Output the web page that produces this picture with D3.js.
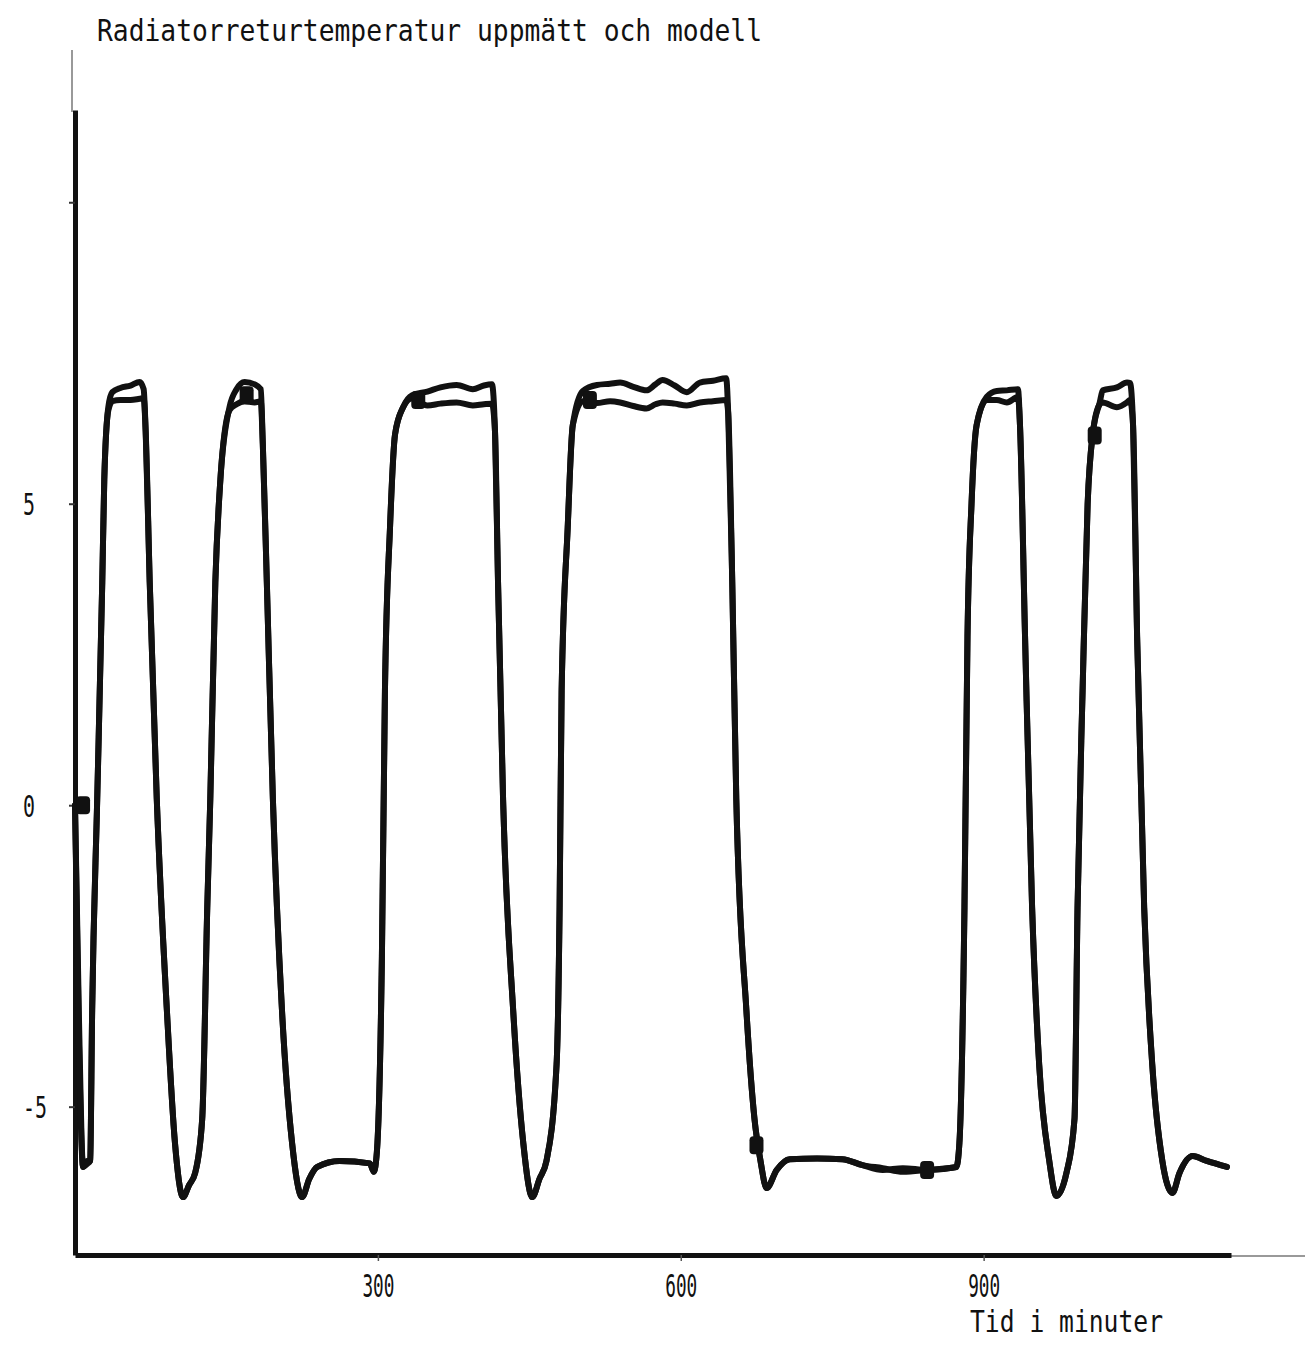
<!DOCTYPE html>
<meta charset="utf-8">
<script src="https://cdn.jsdelivr.net/npm/d3@7"></script>
<style>
    body { margin: 0; background: #fff; }
    text { font-family: "DejaVu Sans Mono", "Liberation Mono", monospace; fill: #111; }
    .line { fill: none; stroke: #111; stroke-width: 6; stroke-linejoin: round; stroke-linecap: round; }
</style>
<body>
<div id="chart"></div>
<script>

    // tid i minuter, gemensam för båda kurvorna
    var tid = [0, 4, 8, 12, 15, 17, 22, 27, 29, 33, 37, 45, 55, 64, 68, 70, 74, 81, 91, 99, 107, 113, 119,
        126, 131, 134, 139, 144, 153, 160, 168, 178, 184, 186, 190, 196, 205, 215, 225, 232, 240, 262, 292, 296,
        299, 304, 307, 312, 317, 325, 334, 349, 362, 378, 394, 405, 413, 416, 419, 424, 434, 444, 453, 460,
        467, 477, 480, 482, 488, 493, 503, 517, 530, 540, 553, 566, 575, 582, 594, 606, 619, 632, 645, 647,
        651, 655, 665, 673, 679, 685, 695, 708, 735, 760, 780, 800, 820, 844, 873,
        876, 881, 884, 888, 893, 903, 913, 923, 934, 936, 941, 948, 955, 965, 972, 982,
        990, 993, 998, 1003, 1008, 1015, 1018, 1032, 1042, 1045, 1048, 1052, 1059, 1067, 1077, 1087, 1094,
        1107, 1121, 1141]

    var uppmatt = [0, -4.0, -6.0, -5.9, -5.9, -3.4, 0.1, 3.7, 5.4, 6.6, 6.85, 6.92, 6.96, 7.02, 6.9, 6.2, 3.7, 0.1, -3.4, -5.6, -6.5, -6.3, -6.1,
        -5.2, -1.7, 0.1, 3.7, 5.4, 6.6, 6.9, 7.02, 6.98, 6.9, 6.0, 3.7, 0.1, -3.4, -5.6, -6.5, -6.2, -6.0, -5.9, -5.94, -6.08,
        -5.75, -2.5, 1.9, 4.6, 6.15, 6.6, 6.8, 6.86, 6.93, 6.97, 6.9, 6.96, 6.98, 6.2, 3.7, 0.1, -3.4, -5.6, -6.5, -6.2,
        -5.9, -4.3, -1.7, 1.9, 4.6, 6.3, 6.87, 6.97, 6.99, 7.01, 6.94, 6.88, 6.98, 7.05, 6.96, 6.85, 7.01, 7.04, 7.08, 6.5,
        3.7, 0.1, -3.4, -5.2, -5.9, -6.35, -6.05, -5.87, -5.86, -5.87, -5.97, -6.05, -6.02, -6.05, -6.0,
        -5.6, -1.7, 2.8, 5.0, 6.3, 6.77, 6.87, 6.88, 6.9, 6.3, 2.8, -1.7, -4.3, -5.9, -6.48, -6.1,
        -5.2, -1.7, 1.9, 5.0, 6.15, 6.68, 6.88, 6.93, 7.01, 7.0, 6.3, 2.8, -1.7, -4.3, -5.9, -6.43, -6.1,
        -5.82, -5.9, -6.0]

    var modell = [0, -3.6, -6.0, -5.95, -5.9, -3.4, 0.1, 3.7, 5.4, 6.55, 6.7, 6.72, 6.72, 6.74, 6.75, 6.2, 3.7, 0.1, -3.4, -5.6, -6.5, -6.3, -6.1,
        -5.2, -1.7, 0.1, 3.7, 5.4, 6.55, 6.65, 6.7, 6.68, 6.7, 6.0, 3.7, 0.1, -3.4, -5.6, -6.5, -6.2, -6.0, -5.9, -5.94, -6.08,
        -5.75, -2.5, 1.9, 4.6, 6.15, 6.6, 6.75, 6.63, 6.66, 6.68, 6.63, 6.65, 6.66, 6.2, 3.7, 0.1, -3.4, -5.6, -6.5, -6.2,
        -5.9, -4.3, -1.7, 1.9, 4.6, 6.3, 6.7, 6.67, 6.7, 6.68, 6.62, 6.58, 6.65, 6.68, 6.66, 6.63, 6.68, 6.7, 6.72, 6.5,
        3.7, 0.1, -3.4, -5.2, -5.9, -6.35, -6.05, -5.87, -5.86, -5.87, -5.97, -6.02, -6.08, -6.05, -6.0,
        -5.6, -1.7, 2.8, 5.0, 6.3, 6.72, 6.72, 6.68, 6.77, 6.3, 2.8, -1.7, -4.3, -5.9, -6.48, -6.1,
        -5.2, -1.7, 1.9, 5.0, 6.15, 6.65, 6.68, 6.6, 6.68, 6.72, 6.3, 2.8, -1.7, -4.3, -5.9, -6.43, -6.1,
        -5.82, -5.9, -6.0]

    // pennans fläckar på kurvan (tid, värde)
    var flackTid = [8, 170, 340, 510, 675, 844, 1010]
    var flackVarde = [0, 6.8, 6.72, 6.72, -5.64, -6.05, 6.13]

    var yTicks = [-5, 0, 5, 10]
    var xTicks = [300, 600, 900]

    var w = 1305
    var h = 1347

    var svg = d3.select("#chart").append("svg").attr("width", w).attr("height", h)

    var x_scale = d3.scaleLinear().domain([0, 1145]).range([75, 1231])
    var y_scale = d3.scaleLinear().domain([-7.46, 11.53]).range([1255, 110])

    // tunna förlängningar av axlarna (skannat papper)
    svg.append("line").attr("x1", 72).attr("x2", 72).attr("y1", 50).attr("y2", 112).style("stroke", "#999").style("stroke-width", 2)
    svg.append("line").attr("x1", 1231).attr("x2", 1305).attr("y1", 1256).attr("y2", 1256).style("stroke", "#777").style("stroke-width", 1.5)

    var y_axis = d3.axisLeft(y_scale).tickValues(yTicks).tickSize(6).tickSizeOuter(0).tickFormat((d) => { return d == 10 ? "" : String(d) })
    var gy = svg.append("g").attr("transform", "translate(75,0)").call(y_axis)
    gy.select(".domain").style("stroke", "#111").style("stroke-width", 5)
    gy.selectAll(".tick line").style("stroke", "#333").style("stroke-width", 2)
    gy.selectAll(".tick text").attr("x", -52).attr("dy", "0.36em").style("text-anchor", "start")
        .style("font-size", "30px").attr("textLength", (d) => { return String(d).length * 12 }).attr("lengthAdjust", "spacingAndGlyphs")

    var x_axis = d3.axisBottom(x_scale).tickValues(xTicks).tickSize(6).tickSizeOuter(0).tickPadding(13).tickFormat((d) => { return String(d) })
    var gx = svg.append("g").attr("transform", "translate(0,1255)").call(x_axis)
    gx.select(".domain").style("stroke", "#111").style("stroke-width", 5)
    gx.selectAll(".tick line").style("stroke", "#555").style("stroke-width", 1.5)
    gx.selectAll(".tick text").style("font-size", "32px").attr("textLength", 32).attr("lengthAdjust", "spacingAndGlyphs")

    var line = d3.line().x((d) => { return x_scale(d[0]) }).y((d) => { return y_scale(d[1]) }).curve(d3.curveMonotoneX)

    svg.append("path").attr("class", "line").attr("d", line(tid.map((t, i) => { return [t, modell[i]] })))
    svg.append("path").attr("class", "line").attr("d", line(tid.map((t, i) => { return [t, uppmatt[i]] })))

    svg.selectAll(".flack").data(flackTid).enter().append("rect").attr("class", "flack")
        .attr("x", (d) => { return x_scale(d) - 7 }).attr("y", (d, i) => { return y_scale(flackVarde[i]) - 9 })
        .attr("width", 14).attr("height", 18).attr("rx", 4).style("fill", "#111")

    svg.append("text").attr("x", 97).attr("y", 41).text("Radiatorreturtemperatur uppmätt och modell")
        .style("font-size", "30px").attr("textLength", 665).attr("lengthAdjust", "spacingAndGlyphs")
    svg.append("text").attr("x", 970).attr("y", 1332).text("Tid i minuter")
        .style("font-size", "30px").attr("textLength", 193).attr("lengthAdjust", "spacingAndGlyphs")

</script>
</body>
